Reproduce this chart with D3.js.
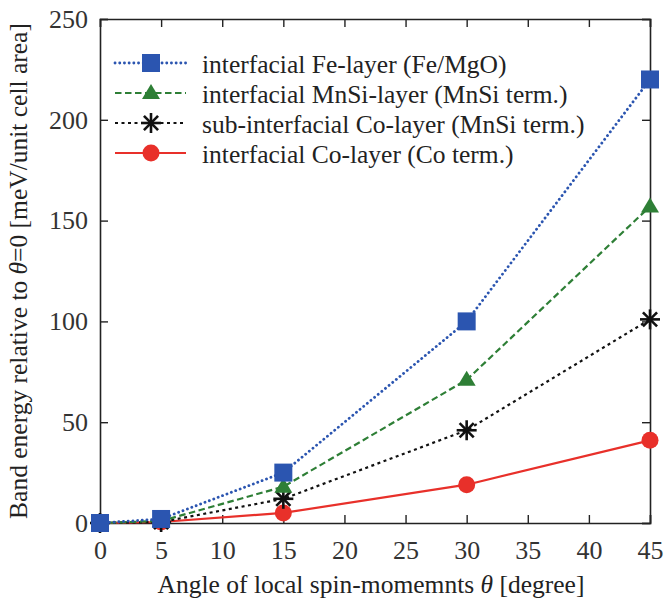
<!DOCTYPE html>
<html><body style="margin:0">
<script src="https://cdn.jsdelivr.net/npm/d3@7"></script>
<script>
// data
var angles = [0, 5, 15, 30, 45];
var feLayer = [0, 2, 25, 100, 220];
var mnsiLayer = [0, 1, 18, 71, 157];
var subCoLayer = [0, 0.5, 12, 46, 101];
var coLayer = [0, 0.5, 5, 19, 41];
var xTicks = [0, 5, 10, 15, 20, 25, 30, 35, 40, 45];
var yTicks = [0, 50, 100, 150, 200, 250];
var labels = ["interfacial Fe-layer (Fe/MgO)", "interfacial MnSi-layer (MnSi term.)",
              "sub-interfacial Co-layer (MnSi term.)", "interfacial Co-layer (Co term.)"];

var W = 667, H = 602;
var m = {left: 100, right: 17, top: 19, bottom: 79};
var FONT = "'Liberation Serif'";

var svg = d3.select("body").append("svg")
    .attr("width", W).attr("height", H);

var x = d3.scaleLinear().domain([0, 45]).range([m.left, W - m.right]);
var y = d3.scaleLinear().domain([0, 250]).range([H - m.bottom, m.top]);

var series = [
  {name: labels[0], vals: feLayer, color: "#2b55b0", dash: "0.1,4.6", cap: "round", marker: "square"},
  {name: labels[1], vals: mnsiLayer, color: "#2e7f36", dash: "6.5,3.5", cap: "butt", marker: "triangle"},
  {name: labels[2], vals: subCoLayer, color: "#111", dash: "3,3.5", cap: "butt", marker: "star"},
  {name: labels[3], vals: coLayer, color: "#e8302a", dash: null, cap: "butt", marker: "circle"}
];

// axes with inward ticks, mirrored on top and right
var tl = 8;
svg.append("g").attr("transform", "translate(0," + y(0) + ")")
  .call(d3.axisBottom(x).tickValues(xTicks).tickSize(-tl).tickPadding(18))
svg.append("g").attr("transform", "translate(0," + y(250) + ")")
  .call(d3.axisTop(x).tickValues(xTicks).tickSize(-tl).tickFormat(""))
svg.append("g").attr("transform", "translate(" + x(0) + ",0)")
  .call(d3.axisLeft(y).tickValues(yTicks).tickSize(-tl).tickPadding(12))
svg.append("g").attr("transform", "translate(" + x(45) + ",0)")
  .call(d3.axisRight(y).tickValues(yTicks).tickSize(-tl).tickFormat(""))

svg.selectAll(".domain").attr("stroke", "#222").attr("stroke-width", 1.6)
svg.selectAll(".tick line").attr("stroke", "#222").attr("stroke-width", 1.4)
svg.selectAll(".tick text").attr("fill", "#333").attr("font-family", FONT).attr("font-size", 26)

// axis titles
svg.append("text")
  .attr("x", (x(0) + x(45)) / 2 - 4).attr("y", 593)
  .attr("text-anchor", "middle").attr("font-family", FONT).attr("font-size", 25.5).attr("fill", "#222")
  .html('Angle of local spin-momemnts <tspan font-style="italic">θ</tspan> [degree]')

svg.append("text")
  .attr("transform", "translate(27," + (y(125)) + ") rotate(-90)")
  .attr("text-anchor", "middle").attr("font-family", FONT).attr("font-size", 25.5).attr("fill", "#222")
  .html('Band energy relative to <tspan font-style="italic">θ</tspan>=0 [meV/unit cell area]')

function drawMarker(g, type, color, cx, cy) {
  if (type == "square") {
    g.append("rect").attr("x", cx - 9).attr("y", cy - 9).attr("width", 18).attr("height", 18)
      .attr("fill", color)
  } else if (type == "triangle") {
    g.append("path").attr("d", "M" + cx + "," + (cy - 9) + " L" + (cx + 9) + "," + (cy + 6) + " L" + (cx - 9) + "," + (cy + 6) + "Z")
      .attr("fill", color)
  } else if (type == "circle") {
    g.append("circle").attr("cx", cx).attr("cy", cy).attr("r", 8.5).attr("fill", color)
  } else {
    var r = 10;
    for (var i = 0; i < 4; i++) {
      var a = i * Math.PI / 4;
      g.append("line")
        .attr("x1", cx - r * Math.cos(a)).attr("y1", cy - r * Math.sin(a))
        .attr("x2", cx + r * Math.cos(a)).attr("y2", cy + r * Math.sin(a))
        .attr("stroke", color).attr("stroke-width", 2.6)
    }
  }
}

var line = d3.line().x(function(d){return x(d[0]);}).y(function(d){return y(d[1]);});

// draw Co first so Fe ends up on top
series.slice().reverse().forEach(function(s) {
  var pts = angles.map(function(a, i){return [a, s.vals[i]];});
  svg.append("path").datum(pts)
    .attr("d", line)
    .attr("fill", "none")
    .attr("stroke", s.color)
    .attr("stroke-width", s.cap == "round" ? 2.8 : 2.2)
    .attr("stroke-linecap", s.cap)
    .attr("stroke-dasharray", s.dash)
  var g = svg.append("g");
  pts.forEach(function(p) { drawMarker(g, s.marker, s.color, x(p[0]), y(p[1])); });
});

// legend
var legend = svg.append("g");
series.forEach(function(s, i) {
  var ly = 63 + i * 30;
  legend.append("line")
    .attr("x1", 115).attr("x2", 186).attr("y1", ly).attr("y2", ly)
    .attr("stroke", s.color).attr("stroke-width", s.cap == "round" ? 2.8 : 2.2)
    .attr("stroke-linecap", s.cap)
    .attr("stroke-dasharray", s.dash)
  drawMarker(legend, s.marker, s.color, 151, ly);
  legend.append("text").attr("x", 202).attr("y", ly + 10)
    .attr("font-family", FONT).attr("font-size", 25.5).attr("fill", "#222").text(s.name)
});
</script>
</body>
</html>
